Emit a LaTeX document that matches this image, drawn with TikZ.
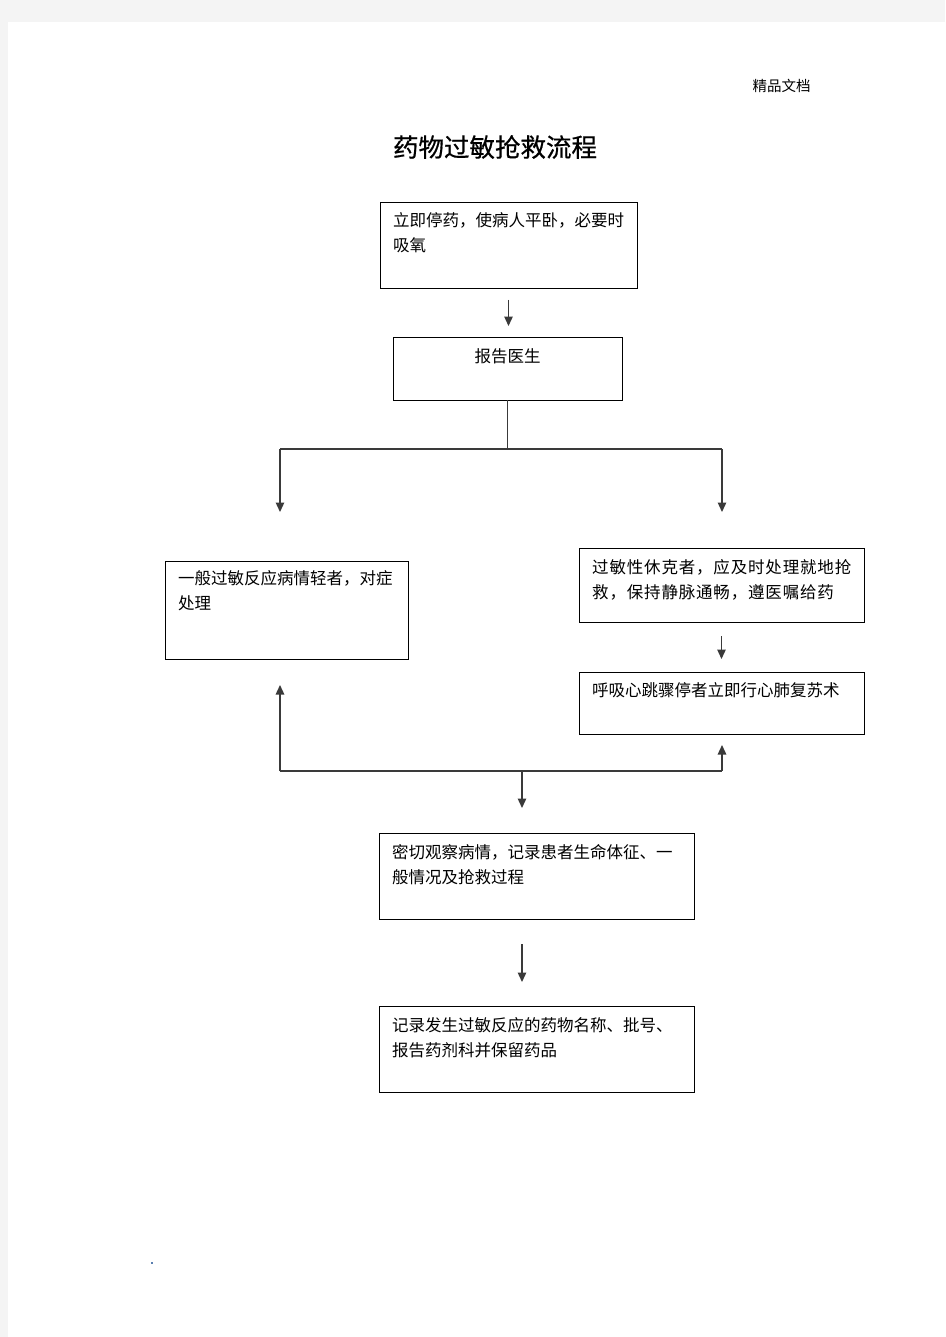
\documentclass[tikz,border=0pt]{standalone}
\usepackage{fontspec}
\newfontfamily\cjk{Noto Sans CJK SC}
\newfontfamily\cjktitle[FakeBold=0.6]{Noto Sans CJK SC}
\newfontfamily\cjkwide[LetterSpace=5]{Noto Sans CJK SC}
\usetikzlibrary{arrows.meta}
\definecolor{pagegray}{HTML}{F4F4F4}
\definecolor{linegray}{HTML}{3A3A3A}
\definecolor{dotblue}{HTML}{5A7FB0}
\tikzset{
  box/.style={draw=black, line width=0.9pt, inner sep=0pt, outer sep=0pt},
  txt/.style={anchor=north west, inner sep=0pt, align=left, font=\cjk\fontsize{16.5}{25}\selectfont},
  conn/.style={draw=linegray, line width=1.3pt},
  arr/.style={conn, -{Triangle[width=8.5pt,length=9.5pt]}},
}
\begin{document}
\begin{tikzpicture}[x=1pt,y=-1pt]
\fill[pagegray] (0,0) rectangle (945,1337);
\fill[white] (8,22) rectangle (945,1337);
\useasboundingbox (0,0) rectangle (945,1337);

\node[font=\cjk\fontsize{14.5}{17}\selectfont] (hdr) at (781.5,86) {精品文档};
\node[font=\cjktitle\fontsize{25.5}{30}\selectfont] (title) at (495,147) {药物过敏抢救流程};

% boxes
\node[box, minimum width=257, minimum height=86] (b1) at (508.5,245) {};
\node[box, minimum width=229, minimum height=63] (b2) at (507.5,368.5) {};
\node[box, minimum width=243, minimum height=98] (b3) at (286.5,610) {};
\node[box, minimum width=285, minimum height=74] (b4) at (721.5,585) {};
\node[box, minimum width=285, minimum height=62] (b5) at (721.5,703) {};
\node[box, minimum width=315, minimum height=86] (b6) at (536.5,876) {};
\node[box, minimum width=315, minimum height=86] (b7) at (536.5,1049) {};

% texts
\node[txt] (t1) at ([shift={(13,10)}]b1.north west) {立即停药，使病人平卧，必要时\\吸氧};
\node[txt, anchor=north] (t2) at ([shift={(0,11)}]b2.north) {报告医生};
\node[txt] (t3) at ([shift={(13,9)}]b3.north west) {一般过敏反应病情轻者，对症\\处理};
\node[txt, font=\cjkwide\fontsize{16.5}{25}\selectfont] (t4) at ([shift={(13,11)}]b4.north west) {过敏性休克者，应及时处理就地抢\\救，保持静脉通畅，遵医嘱给药};
\node[txt] (t5) at ([shift={(13,10)}]b5.north west) {呼吸心跳骤停者立即行心肺复苏术};
\node[txt] (t6) at ([shift={(13,11)}]b6.north west) {密切观察病情，记录患者生命体征、一\\般情况及抢救过程};
\node[txt] (t7) at ([shift={(13,11)}]b7.north west) {记录发生过敏反应的药物名称、批号、\\报告药剂科并保留药品};

% junction coordinates
\coordinate (sl) at (280,449);
\coordinate (sr) at (722,449);
\coordinate (jl) at (280,771);
\coordinate (jr) at (722,771);
\coordinate (jm) at (522,771);

% connectors
\draw[arr, shorten <=12pt, shorten >=11pt] (b1.south) -- (b1.south |- b2.north);
\draw[conn] (b2.south) -- (b2.south |- sl);
\draw[conn] (sl) -- (sr);
\draw[arr, shorten >=49pt] (sl) -- (sl |- b3.north);
\draw[arr, shorten >=36pt] (sr) -- (sr |- b4.north);
\draw[arr, shorten <=14pt, shorten >=13pt] (b4.south) -- (b5.north);
\draw[conn] (jl) -- (jr);
\draw[arr, shorten >=26pt] (jl) -- (jl |- b3.south);
\draw[arr, shorten >=11pt] (jr) -- (jr |- b5.south);
\draw[arr, shorten >=25pt] (jm) -- (jm |- b6.north);
\draw[arr, shorten <=25pt, shorten >=24pt] ([xshift=-14.5]b6.south) -- ([xshift=-14.5]b7.north);

\node[fill=dotblue, inner sep=0pt, minimum size=1.2pt] (dot) at (152,1263) {};
\end{tikzpicture}
\end{document}
